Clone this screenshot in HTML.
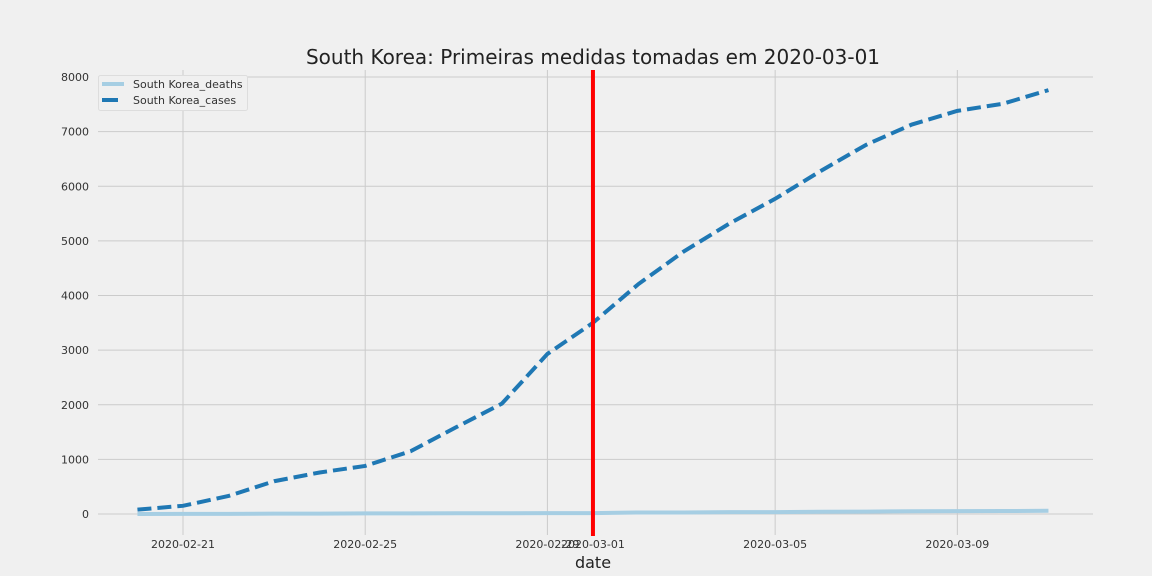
<!DOCTYPE html>
<html><head><meta charset="utf-8"><style>
body{margin:0;background:#f0f0f0;}
svg{display:block;font-family:"DejaVu Sans","Liberation Sans",sans-serif;}
</style></head><body>
<svg id="chart" width="1152" height="576" viewBox="0 0 1152 576">
<rect width="1152" height="576" fill="#f0f0f0"/>
<text x="593" y="64" text-anchor="middle" font-size="20" fill="#222">South Korea: Primeiras medidas tomadas em 2020-03-01</text>
<g id="grid"></g><g id="marks"></g>
<text x="593" y="568" text-anchor="middle" font-size="16" fill="#222">date</text>
<g>
<rect x="98.5" y="75.5" width="149" height="35" fill="#f0f0f0" stroke="#ddd" rx="2"/>
<line x1="102" y1="84" x2="124" y2="84" stroke="#a6cee3" stroke-width="4"/>
<text x="133" y="88" font-size="11" fill="#333">South Korea_deaths</text>
<line x1="102" y1="100" x2="118" y2="100" stroke="#1f78b4" stroke-width="4"/>
<text x="133" y="104" font-size="11" fill="#333">South Korea_cases</text>
</g>
</svg>
<script>
const dates=["2020-02-20","2020-02-21","2020-02-22","2020-02-23","2020-02-24","2020-02-25","2020-02-26","2020-02-27","2020-02-28","2020-02-29","2020-03-01","2020-03-02","2020-03-03","2020-03-04","2020-03-05","2020-03-06","2020-03-07","2020-03-08","2020-03-09","2020-03-10","2020-03-11"];
const cases=[80,150,330,600,760,880,1150,1590,2020,2930,3500,4210,4810,5320,5770,6280,6760,7130,7380,7510,7760];
const deaths=[1,2,2,6,8,11,12,13,13,16,17,28,28,35,35,42,44,50,53,54,60];
const yTicks=[0,1000,2000,3000,4000,5000,6000,7000,8000];
const xTickLabels=["2020-02-21","2020-02-25","2020-02-29","2020-03-01","2020-03-05","2020-03-09"];
const eventDate="2020-03-01";
const ns="http://www.w3.org/2000/svg";
const d0=Date.parse("2020-02-21");
function x(d){return 183+(Date.parse(d)-d0)/86400000*45.55;}
function y(v){return 514-v*437/8000;}
function mk(t,a,p){const e=document.createElementNS(ns,t);for(const k in a)e.setAttribute(k,a[k]);p.appendChild(e);return e;}
const g=document.getElementById('grid'),m=document.getElementById('marks');
yTicks.forEach(v=>{
 const l=mk('line',{x1:98,x2:1093,y1:y(v),y2:y(v),stroke:'#cbcbcb','stroke-width':1},g);
 
 
 const t=mk('text',{x:89,y:y(v)+4,'text-anchor':'end','font-size':11,fill:'#333'},g);
 t.textContent=v;
 
 
});
xTickLabels.forEach(d=>{
 if(d!==eventDate){const l=mk('line',{x1:x(d),x2:x(d),y1:70,y2:535,stroke:'#cbcbcb','stroke-width':1},g);
 
 }
 const t=mk('text',{x:x(d),y:548,'text-anchor':'middle','font-size':11,fill:'#333'},g);
 t.textContent=d;
 
 
});
const dl=mk('polyline',{points:dates.map((d,i)=>x(d)+','+y(deaths[i])).join(' '),fill:'none',stroke:'#a6cee3','stroke-width':4},m);


const cl=mk('polyline',{points:dates.map((d,i)=>x(d)+','+y(cases[i])).join(' '),fill:'none',stroke:'#1f78b4','stroke-width':4,'stroke-dasharray':'14 6'},m);


const vl=mk('line',{x1:x(eventDate),x2:x(eventDate),y1:70,y2:536,stroke:'#ff0000','stroke-width':4},m);


</script>
</body></html>
